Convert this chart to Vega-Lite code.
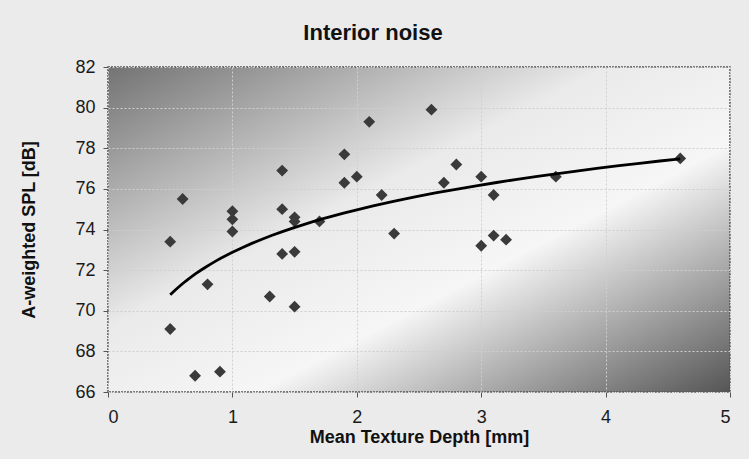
{
  "$schema": "https://vega.github.io/schema/vega-lite/v6.json",
  "width": 622,
  "height": 325,
  "autosize": {"type": "none"},
  "padding": {"left": 108, "top": 67, "right": 19, "bottom": 67},
  "background": "#ebebeb",
  "title": {
    "text": "Interior noise",
    "font": "Liberation Sans",
    "fontSize": 22,
    "fontWeight": "bold",
    "color": "#111",
    "offset": 13,
    "dx": -46
  },
  "data": {
    "values": [
      {"mtd": 0.5, "spl": 73.4}, {"mtd": 0.5, "spl": 69.1}, {"mtd": 0.6, "spl": 75.5},
      {"mtd": 0.7, "spl": 66.8}, {"mtd": 0.8, "spl": 71.3}, {"mtd": 0.9, "spl": 67.0},
      {"mtd": 1.0, "spl": 74.9}, {"mtd": 1.0, "spl": 74.5}, {"mtd": 1.0, "spl": 73.9},
      {"mtd": 1.3, "spl": 70.7}, {"mtd": 1.4, "spl": 76.9}, {"mtd": 1.4, "spl": 75.0},
      {"mtd": 1.4, "spl": 72.8}, {"mtd": 1.5, "spl": 74.6}, {"mtd": 1.5, "spl": 74.4},
      {"mtd": 1.5, "spl": 72.9}, {"mtd": 1.5, "spl": 70.2}, {"mtd": 1.7, "spl": 74.4},
      {"mtd": 1.9, "spl": 77.7}, {"mtd": 1.9, "spl": 76.3}, {"mtd": 2.0, "spl": 76.6},
      {"mtd": 2.1, "spl": 79.3}, {"mtd": 2.2, "spl": 75.7}, {"mtd": 2.3, "spl": 73.8},
      {"mtd": 2.6, "spl": 79.9}, {"mtd": 2.7, "spl": 76.3}, {"mtd": 2.8, "spl": 77.2},
      {"mtd": 3.0, "spl": 76.6}, {"mtd": 3.0, "spl": 73.2}, {"mtd": 3.1, "spl": 75.7},
      {"mtd": 3.1, "spl": 73.7}, {"mtd": 3.2, "spl": 73.5}, {"mtd": 3.6, "spl": 76.6},
      {"mtd": 4.6, "spl": 77.5}
    ]
  },
  "encoding": {
    "x": {
      "field": "mtd", "type": "quantitative",
      "scale": {"domain": [0, 5], "nice": false, "zero": false},
      "axis": {"values": [0, 1, 2, 3, 4, 5], "title": "Mean Texture Depth [mm]"}
    },
    "y": {
      "field": "spl", "type": "quantitative",
      "scale": {"domain": [66, 82], "nice": false, "zero": false},
      "axis": {"values": [66, 68, 70, 72, 74, 76, 78, 80, 82], "title": "A-weighted SPL [dB]"}
    }
  },
  "layer": [
    {
      "mark": {"type": "point", "shape": "diamond", "filled": true, "size": 140, "color": "#3a3a3a", "opacity": 1}
    },
    {
      "transform": [{"regression": "spl", "on": "mtd", "method": "log", "extent": [0.5, 4.6]}],
      "mark": {"type": "line", "color": "#000000", "strokeWidth": 2.8}
    }
  ],
  "config": {
    "view": {
      "stroke": "#555555",
      "strokeWidth": 1.5,
      "strokeDash": [2, 1],
      "fill": {
        "gradient": "linear", "x1": 0, "y1": 0, "x2": 1, "y2": 1,
        "stops": [
          {"offset": 0, "color": "#737373"},
          {"offset": 0.4, "color": "#eaeaea"},
          {"offset": 0.62, "color": "#f6f6f6"},
          {"offset": 1, "color": "#555555"}
        ]
      }
    },
    "axis": {
      "domain": false,
      "grid": true,
      "gridColor": "#cfcfcf",
      "gridDash": [2, 2],
      "gridWidth": 1,
      "ticks": true,
      "tickColor": "#555",
      "tickSize": 5,
      "labelFont": "Liberation Sans",
      "labelFontSize": 18,
      "labelColor": "#1a1a1a",
      "titleFont": "Liberation Sans",
      "titleFontSize": 18,
      "titleFontWeight": "bold",
      "titleColor": "#111"
    },
    "axisX": {"labelPadding": 11, "titlePadding": 2},
    "axisY": {"labelPadding": 8, "titlePadding": 36}
  }
}
